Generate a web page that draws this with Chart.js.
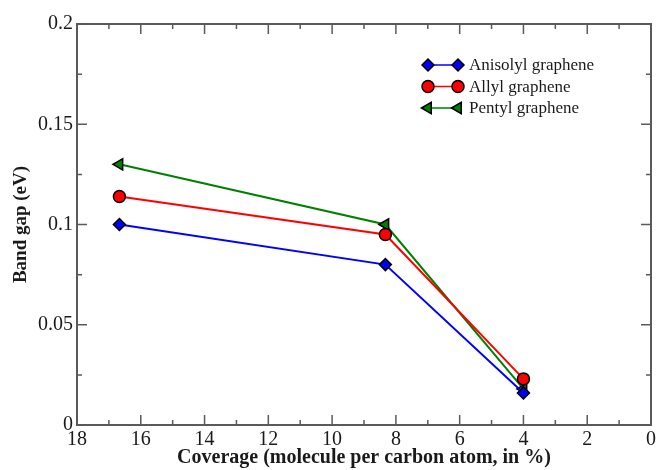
<!DOCTYPE html>
<html><head><meta charset="utf-8">
<script src="https://cdn.jsdelivr.net/npm/chart.js@4/dist/chart.umd.min.js"></script>
<style>html,body{margin:0;padding:0;background:#fff;}</style>
</head><body>
<canvas id="c" width="659" height="470"></canvas>
<script>
const coverage = [16.67, 8.33, 4];
const anisolyl = [0.100, 0.080, 0.016];
const allyl = [0.114, 0.095, 0.023];
const pentyl = [0.130, 0.100, 0.018];
const seriesNames = ['Anisolyl graphene', 'Allyl graphene', 'Pentyl graphene'];
const xTitle = 'Coverage (molecule per carbon atom, in %)';
const yTitle = 'Band gap (eV)';

const pts = arr => coverage.map((x, i) => ({x: x, y: arr[i]}));
const SERIF = '"Liberation Serif", "Times New Roman", serif';
const TEXT = '#1a1a1a';

const frameTicks = {
  id: 'frameTicks',
  afterDraw(chart) {
    const ctx = chart.ctx, a = chart.chartArea;
    const xs = chart.scales.x, ys = chart.scales.y;
    ctx.save();
    ctx.strokeStyle = '#5a5a5a';
    ctx.lineWidth = 2;
    ctx.strokeRect(a.left, a.top, a.right - a.left, a.bottom - a.top);
    ctx.lineWidth = 1.5;
    ctx.beginPath();
    for (let v = 0; v <= 18; v += 1) {
      const px = xs.getPixelForValue(v);
      const len = (v % 2 === 0) ? 10 : 5;
      ctx.moveTo(px, a.bottom); ctx.lineTo(px, a.bottom - len);
      ctx.moveTo(px, a.top); ctx.lineTo(px, a.top + len);
    }
    for (let k = 0; k <= 8; k++) {
      const v = k * 0.025;
      const py = ys.getPixelForValue(v);
      const len = (k % 2 === 0) ? 10 : 5;
      ctx.moveTo(a.left, py); ctx.lineTo(a.left + len, py);
      ctx.moveTo(a.right, py); ctx.lineTo(a.right - len, py);
    }
    ctx.stroke();
    ctx.restore();
  }
};

const innerLegend = {
  id: 'innerLegend',
  afterDraw(chart) {
    const ctx = chart.ctx;
    const x0 = 428, x1 = 458, tx = 469, y0 = 65, dy = 21.5;
    chart.data.datasets.forEach((ds, i) => {
      const y = y0 + i * dy;
      ctx.save();
      ctx.strokeStyle = ds.borderColor;
      ctx.lineWidth = 1.5;
      ctx.beginPath(); ctx.moveTo(x0, y); ctx.lineTo(x1, y); ctx.stroke();
      ctx.fillStyle = ds.pointBackgroundColor;
      ctx.strokeStyle = ds.pointBorderColor;
      ctx.lineWidth = ds.pointBorderWidth;
      [x0, x1].forEach(px => {
        Chart.helpers.drawPoint(ctx, {
          pointStyle: ds.pointStyle, rotation: ds.pointRotation || 0,
          radius: ds.pointRadius, borderWidth: ds.pointBorderWidth
        }, px, y);
      });
      ctx.fillStyle = TEXT;
      ctx.font = '17px ' + SERIF;
      ctx.textBaseline = 'middle';
      ctx.fillText(ds.label, tx, y + 1);
      ctx.restore();
    });
  }
};

const mk = (label, arr, color, style, rot, r) => ({
  label: label, data: pts(arr), showLine: true,
  borderColor: color, borderWidth: 2,
  pointStyle: style, pointRotation: rot, pointRadius: r, pointHoverRadius: r,
  pointBackgroundColor: color, pointBorderColor: '#000', pointBorderWidth: 1.5
});

new Chart(document.getElementById('c'), {
  type: 'scatter',
  data: {
    datasets: [
      mk(seriesNames[0], anisolyl, '#0000ff', 'rectRot', 0, 6),
      mk(seriesNames[1], allyl, '#ff0000', 'circle', 0, 6),
      mk(seriesNames[2], pentyl, '#008000', 'triangle', -90, 6.5)
    ]
  },
  options: {
    responsive: false, animation: false, devicePixelRatio: 1,
    layout: {padding: {left: 0, right: 8, top: 24, bottom: 0}},
    plugins: {legend: {display: false}, tooltip: {enabled: false}},
    scales: {
      x: {
        type: 'linear', min: 0, max: 18, reverse: true,
        grid: {display: false, drawTicks: false}, border: {display: false},
        ticks: {stepSize: 2, color: TEXT, padding: 3, font: {family: SERIF, size: 20}, maxRotation: 0},
        title: {display: true, text: xTitle, color: TEXT, font: {family: SERIF, size: 20, weight: 'bold'}, padding: {top: 0, bottom: 0}},
        afterFit(s) { s.height = 45; }
      },
      y: {
        type: 'linear', min: 0, max: 0.2,
        grid: {display: false, drawTicks: false}, border: {display: false},
        ticks: {stepSize: 0.05, color: TEXT, padding: 4, font: {family: SERIF, size: 20},
          callback: v => String(+v.toFixed(2))},
        title: {display: true, text: yTitle, color: TEXT, font: {family: SERIF, size: 19, weight: 'bold'}, padding: {top: 10, bottom: 0}},
        afterFit(s) { s.width = 77; }
      }
    }
  },
  plugins: [frameTicks, innerLegend]
});
</script>
</body></html>
